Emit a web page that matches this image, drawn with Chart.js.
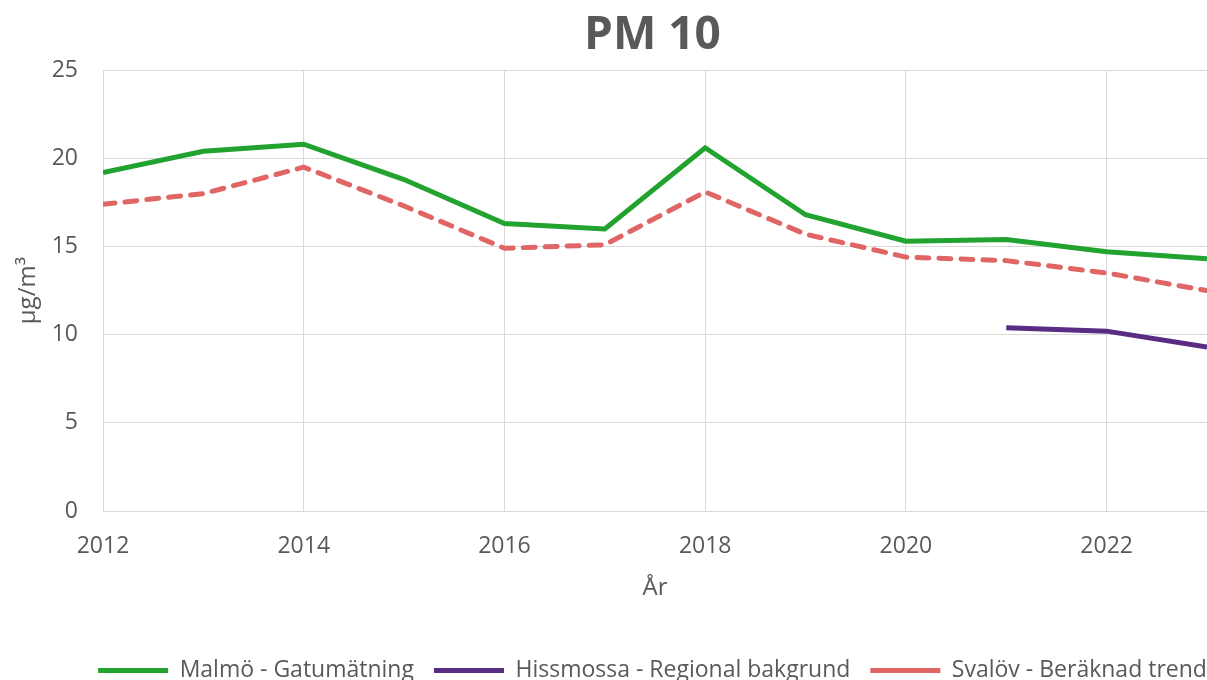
<!DOCTYPE html>
<html>
<head>
<meta charset="utf-8">
<script src="https://cdn.jsdelivr.net/npm/chart.js@4/dist/chart.umd.min.js"></script>
<style>
    html, body { margin: 0; padding: 0; overflow: hidden; background: #fff; }
    #wrap { position: absolute; left: 0; top: 0; width: 1305px; height: 700px; }
</style>
</head>
<body>
<div id="wrap"><canvas id="pmChart"></canvas></div>
<script>
"use strict";

const years = [2012, 2013, 2014, 2015, 2016, 2017, 2018, 2019, 2020, 2021, 2022, 2023];
const malmo = [19.2, 20.4, 20.8, 18.8, 16.3, 16.0, 20.6, 16.8, 15.3, 15.4, 14.7, 14.3];
const hissmossa = [null, null, null, null, null, null, null, null, null, 10.4, 10.2, 9.3];
const svalov = [17.4, 18.0, 19.5, 17.3, 14.9, 15.1, 18.1, 15.7, 14.4, 14.2, 13.5, 12.5];

const toPoints = (arr) => years.map((y, i) => ({x: y, y: arr[i]}));

const textColor = '#595959';
const gridColor = '#d9d9d9';
const font = '"Open Sans", sans-serif';

const ctx = document.getElementById('pmChart').getContext('2d');
const pmChart = new Chart(ctx, {
    type: 'line',
    data: {
        datasets: [{
            label: 'Malmö - Gatumätning',
            data: toPoints(malmo),
            borderColor: '#22a330',
            backgroundColor: '#22a330',
            borderWidth: 5,
            pointRadius: 0,
            tension: 0,
        }, {
            label: 'Hissmossa - Regional bakgrund',
            data: toPoints(hissmossa),
            borderColor: '#582c83',
            backgroundColor: '#582c83',
            borderWidth: 5,
            pointRadius: 0,
            tension: 0,
        }, {
            label: 'Svalöv - Beräknad trend',
            data: toPoints(svalov),
            borderColor: '#e06666',
            backgroundColor: '#e06666',
            borderWidth: 5,
            borderDash: [12, 10],
            borderCapStyle: 'round',
            pointRadius: 0,
            tension: 0,
        }]
    },
    options: {
        maintainAspectRatio: false,
        responsive: true,
        animation: false,
        layout: {
            padding: {left: 0, right: 0, top: 0, bottom: 8}
        },
        plugins: {
            title: {
                display: true,
                text: 'PM 10',
                color: textColor,
                font: {family: font, size: 46, weight: 'bold'},
                padding: {top: 8, bottom: 7},
            },
            legend: {
                position: 'bottom',
                labels: {
                    color: textColor,
                    font: {family: font, size: 23},
                    usePointStyle: true,
                    pointStyle: 'line',
                    pointStyleWidth: 70,
                    padding: 20,
                }
            },
            tooltip: {
                enabled: false,
            }
        },
        scales: {
            x: {
                type: 'linear',
                min: 2012,
                max: 2023,
                afterFit: (scale) => {
                    scale.height = 128;
                    scale.paddingLeft = 0;
                    scale.paddingRight = 98;
                },
                ticks: {
                    stepSize: 2,
                    includeBounds: false,
                    color: textColor,
                    font: {family: font, size: 23},
                    padding: 22,
                    callback: (v) => String(v),
                },
                grid: {
                    color: gridColor,
                    drawTicks: false,
                },
                border: {display: false},
                title: {
                    display: true,
                    text: 'År',
                    color: textColor,
                    font: {family: font, size: 24},
                    padding: {top: 0, bottom: 36},
                }
            },
            y: {
                min: 0,
                max: 25,
                afterFit: (scale) => { scale.width = 103; },
                ticks: {
                    stepSize: 5,
                    color: textColor,
                    font: {family: font, size: 23},
                    padding: 25,
                },
                grid: {
                    color: gridColor,
                    drawTicks: false,
                },
                border: {display: false},
                title: {
                    display: true,
                    text: 'µg/m³',
                    color: textColor,
                    font: {family: font, size: 24},
                    padding: {top: 14, bottom: 4},
                }
            }
        }
    }
});
</script>
</body>
</html>
